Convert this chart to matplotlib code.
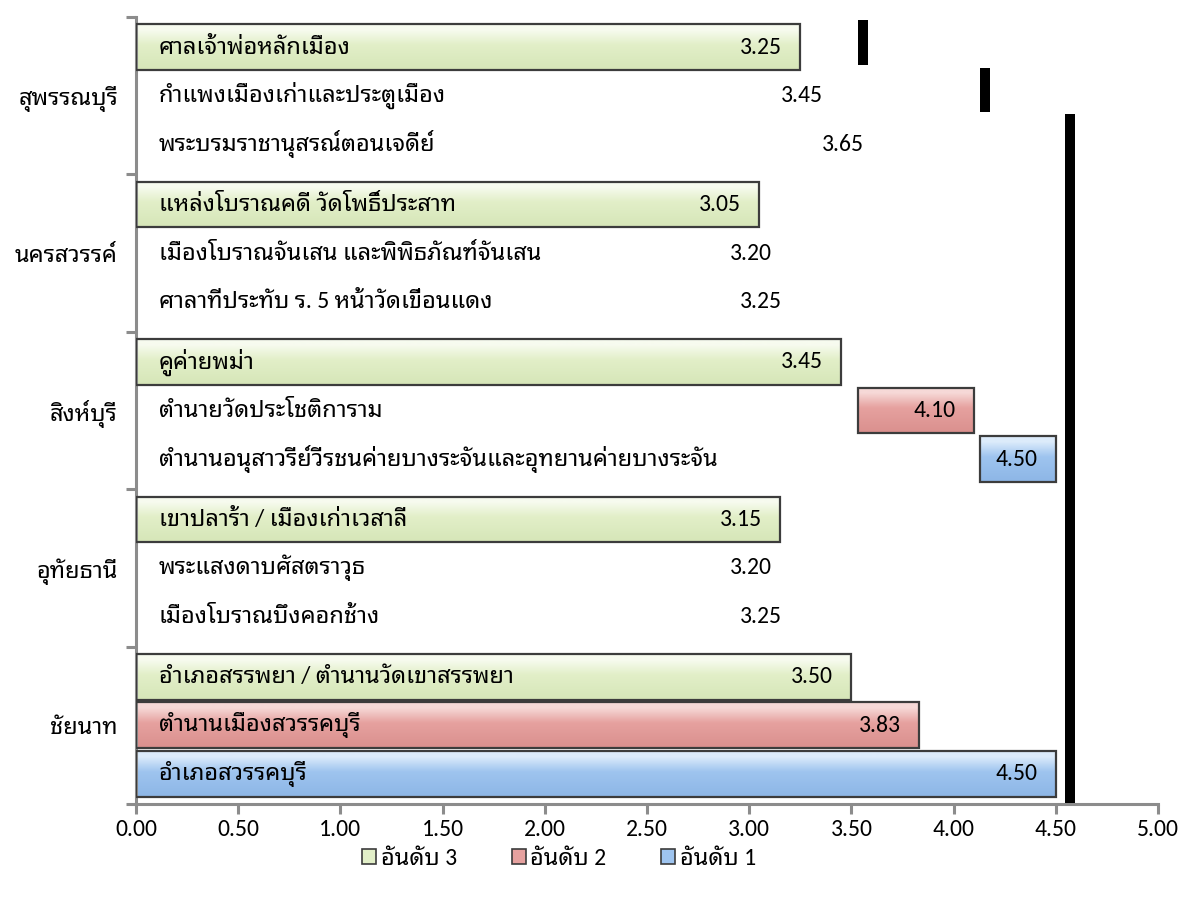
import numpy as np
import matplotlib
matplotlib.use("Agg")
import matplotlib.pyplot as plt
from matplotlib.patches import Patch
from matplotlib.colors import to_rgb

plt.rcParams['font.family'] = ['Carlito', 'Noto Sans Thai Looped', 'Sarabun', 'Noto Sans Thai', 'Anuphan', 'DejaVu Sans']

# provinces, bottom to top
provinces = ['ชัยนาท', 'อุทัยธานี', 'สิงห์บุรี', 'นครสวรรค์', 'สุพรรณบุรี']

rank3_names = ['อำเภอสรรพยา / ตำนานวัดเขาสรรพยา', 'เขาปลาร้า / เมืองเก่าเวสาลี', 'คูค่ายพม่า',
               'แหล่งโบราณคดี วัดโพธิ์ประสาท', 'ศาลเจ้าพ่อหลักเมือง']
rank2_names = ['ตำนานเมืองสวรรคบุรี', 'พระแสงดาบศัสตราวุธ', 'ตำนายวัดประโชติการาม',
               'เมืองโบราณจันเสน และพิพิธภัณฑ์จันเสน', 'กำแพงเมืองเก่าและประตูเมือง']
rank1_names = ['อำเภอสวรรคบุรี', 'เมืองโบราณบึงคอกช้าง', 'ตำนานอนุสาวรีย์วีรชนค่ายบางระจันและอุทยานค่ายบางระจัน',
               'ศาลาที่ประทับ ร. 5 หน้าวัดเขื่อนแดง', 'พระบรมราชานุสรณ์ตอนเจดีย์']

rank3_values = [3.50, 3.15, 3.45, 3.05, 3.25]
rank2_values = [3.83, 3.20, 4.10, 3.20, 3.45]
rank1_values = [4.50, 3.25, 4.50, 3.25, 3.65]

# where each bar becomes visible (nan = bar hidden, only its labels show)
rank3_from = [0, 0, 0, 0, 0]
rank2_from = [0, np.nan, 3.53, np.nan, np.nan]
rank1_from = [0, np.nan, 4.13, np.nan, np.nan]

# black marks at the right
stub_left = [3.53, 4.13, 4.545]
stub_right = [3.58, 4.18, 4.595]
stub_bottom = [14.08, 13.19, 0.02]
stub_top = [14.94, 14.03, 13.15]

legend_labels = ['อันดับ 3', 'อันดับ 2', 'อันดับ 1']
colors = ['#E2EFC8', '#E6A19F', '#9EC4EF']
tops = ['#F7FBEF', '#F6D9D7', '#DCEBFB']
bottoms = ['#D6E6B8', '#DA908E', '#8DB6E6']
edge = '#3C3C3C'
axis_gray = '#8C8C8C'


def gradient(k, n=60):
    # light band at the top fading into the base colour, a little darker at the bottom
    t = np.linspace(0, 1, n)
    c_top, c_mid, c_bot = (np.array(to_rgb(c)) for c in (tops[k], colors[k], bottoms[k]))
    out = np.zeros((n, 1, 3))
    for i, ti in enumerate(t):
        if ti < 0.12:
            out[i, 0] = c_top
        elif ti < 0.45:
            f = (ti - 0.12) / 0.33
            out[i, 0] = c_top * (1 - f) + c_mid * f
        else:
            f = (ti - 0.45) / 0.55
            out[i, 0] = c_mid * (1 - f) + c_bot * f
    return out


fig = plt.figure(figsize=(11.82, 9), dpi=100)
ax = fig.add_axes([0.1151, 0.1067, 0.8646, 0.8744])

bh = 0.87
step = 0.925
centers = np.arange(len(provinces)) * 3 + 1.5
series = [
    (rank3_names, rank3_values, rank3_from, centers + step),
    (rank2_names, rank2_values, rank2_from, centers),
    (rank1_names, rank1_values, rank1_from, centers - step),
]

for k, (names, vals, starts, ys) in enumerate(series):
    for name, v, s, y in zip(names, vals, starts, ys):
        if not np.isnan(s):
            ax.imshow(gradient(k), extent=(s, v, y - bh / 2, y + bh / 2), aspect='auto',
                      origin='upper', interpolation='bilinear', zorder=2)
            ax.barh(y, v - s, left=s, height=bh, facecolor='none', edgecolor=edge,
                    linewidth=1.6, zorder=2.6)
        ax.text(0.11, y, name, ha='left', va='center', fontsize=17, zorder=4)
        ax.annotate('%.2f' % v, xy=(v, y), xytext=(-13, 0), textcoords='offset points',
                    ha='right', va='center', fontsize=17, zorder=4)

for l, r, b, t in zip(stub_left, stub_right, stub_bottom, stub_top):
    ax.bar(l, t - b, width=r - l, bottom=b, align='edge', color='black', zorder=3)

ax.set_xlim(0, 5)
ax.set_ylim(0, 15)
ax.set_xticks(np.arange(0, 5.01, 0.5))
ax.set_xticklabels(['%.2f' % t for t in np.arange(0, 5.01, 0.5)])
ax.set_yticks(np.arange(0, 15.1, 3))
ax.set_yticklabels([])
ax.set_yticks(centers, minor=True)
ax.set_yticklabels(provinces, minor=True, fontsize=17, fontweight='bold')

ax.tick_params(axis='x', direction='out', length=7, width=2.2, color=axis_gray,
               labelsize=17, pad=4)
ax.tick_params(axis='y', which='major', direction='out', length=7, width=2.2, color=axis_gray)
ax.tick_params(axis='y', which='minor', length=0, pad=13)

for side in ['top', 'right']:
    ax.spines[side].set_visible(False)
for side in ['left', 'bottom']:
    ax.spines[side].set_color(axis_gray)
    ax.spines[side].set_linewidth(2.2)

handles = [Patch(facecolor=c, edgecolor=edge, linewidth=1.2) for c in colors]
fig.legend(handles, legend_labels, loc='center', bbox_to_anchor=(0.473, 0.046),
           ncol=3, frameon=False, fontsize=17, handlelength=0.6, handleheight=0.6,
           handletextpad=0.2, columnspacing=2.3)

fig.savefig('out.png', dpi=100)
